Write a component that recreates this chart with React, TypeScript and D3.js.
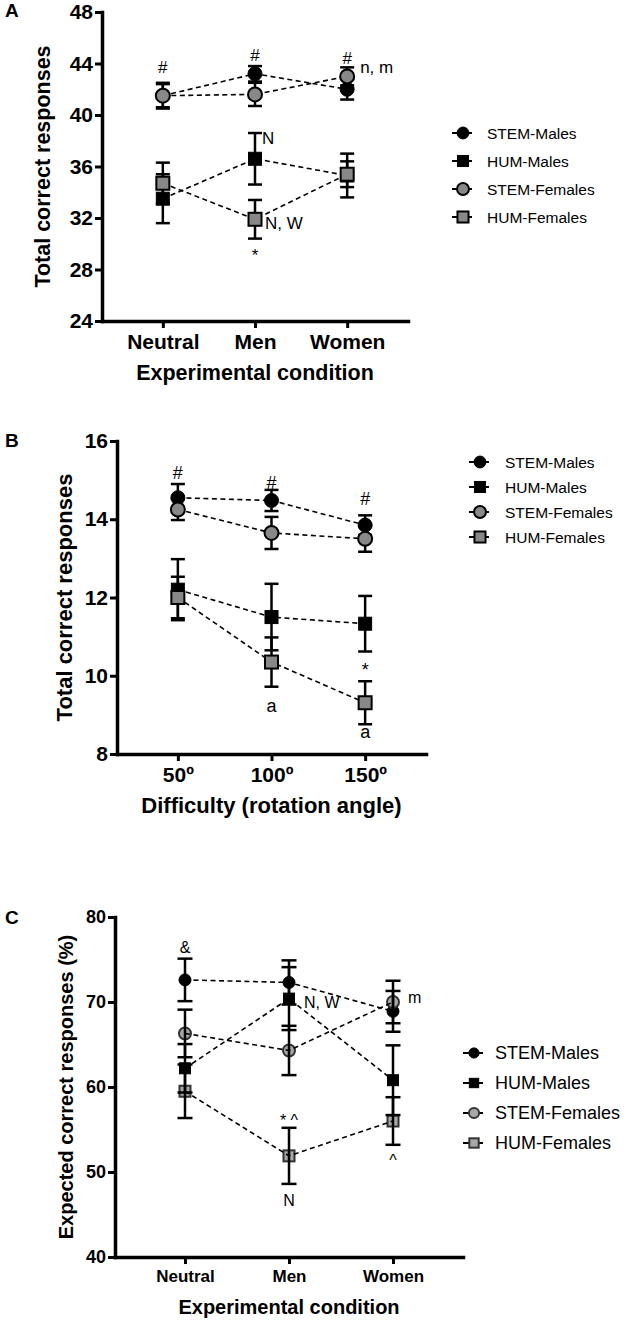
import React, { useEffect, useRef } from "react";
import * as d3 from "d3";

const series = ["STEM-Males", "HUM-Males", "STEM-Females", "HUM-Females"];
const conditions = ["Neutral", "Men", "Women"];
const angles = ["50º", "100º", "150º"];

// Panel A: total correct responses by experimental condition
const ticksA = [24, 28, 32, 36, 40, 44, 48];
const meansA = [
  [41.5, 43.2, 42.0],
  [33.5, 36.6, 35.3],
  [41.5, 41.6, 43.0],
  [34.7, 31.9, 35.4],
];
const errA = [
  [0.9, 0.6, 0.8],
  [1.9, 2.0, 1.7],
  [1.0, 0.9, 0.7],
  [1.6, 1.5, 1.0],
];
// [category index, value, text, dx]
const notesA: [number, number, string, number][] = [
  [0, 43.7, "#", 0],
  [1, 44.65, "#", 0],
  [2, 44.4, "#", 0],
  [2, 43.65, "n, m", 13],
  [1, 38.2, "N", 7],
  [1, 31.6, "N, W", 10],
  [1, 29.4, "*", 0],
];

// Panel B: total correct responses by rotation angle
const ticksB = [8, 10, 12, 14, 16];
const meansB = [
  [14.55, 14.48, 13.85],
  [12.2, 11.5, 11.33],
  [14.25, 13.65, 13.5],
  [12.0, 10.35, 9.31],
];
const errB = [
  [0.35, 0.27, 0.25],
  [0.78, 0.85, 0.71],
  [0.27, 0.41, 0.33],
  [0.53, 0.63, 0.55],
];
const notesB: [number, number, string, number][] = [
  [0, 15.2, "#", 0],
  [1, 14.95, "#", 0],
  [2, 14.54, "#", 0],
  [2, 10.27, "*", 0],
  [1, 9.2, "a", 0],
  [2, 8.53, "a", 0],
];

// Panel C: expected correct responses (%)
const ticksC = [40, 50, 60, 70, 80];
const meansC = [
  [72.6, 72.3, 68.9],
  [62.2, 70.4, 60.8],
  [66.3, 64.3, 70.0],
  [59.5, 51.9, 56.0],
];
const errC = [
  [2.5, 2.6, 2.4],
  [2.85, 3.7, 4.1],
  [2.8, 2.9, 2.5],
  [3.15, 3.3, 2.8],
];
const notesC: [number, number, string, number][] = [
  [0, 76.4, "&", 0],
  [1, 70.0, "N, W", 15],
  [2, 70.4, "m", 15],
  [1, 56.5, "* ^", 0],
  [1, 46.7, "N", 0],
  [2, 51.8, "^", 0],
];

const FONT = "'Liberation Sans', Arial, Helvetica, sans-serif";

type Panel = {
  label: string;
  labelY: number;
  cats: string[];
  ticks: number[];
  means: number[][];
  errs: number[][];
  notes: [number, number, string, number][];
  x0: number; x1: number; y0: number; y1: number; pad: number;
  tickFont: number; yTickFont: number; titleFont: number; noteFont: number;
  xTitle: string; xTitleY: number;
  yTitle: string; yTitleX: number;
  r: number; sq: number; cap: number; grey: string; greyStroke: string; barsOnTop: boolean;
  legX: number; legTextX: number; legY: number; legStep: number; legFont: number;
};

const panels: Panel[] = [
  {
    label: "A", labelY: 17, cats: conditions, ticks: ticksA, means: meansA, errs: errA, notes: notesA,
    x0: 102, x1: 408, y0: 321, y1: 12, pad: 0.66,
    tickFont: 21, yTickFont: 21, titleFont: 21.5, noteFont: 17,
    xTitle: "Experimental condition", xTitleY: 380, yTitle: "Total correct responses", yTitleX: 50,
    r: 7, sq: 13, cap: 14, grey: "#888", greyStroke: "#000", barsOnTop: false,
    legX: 463, legTextX: 487, legY: 133, legStep: 28, legFont: 15.5,
  },
  {
    label: "B", labelY: 447, cats: angles, ticks: ticksB, means: meansB, errs: errB, notes: notesB,
    x0: 117, x1: 426, y0: 754, y1: 441, pad: 0.65,
    tickFont: 21, yTickFont: 21, titleFont: 22, noteFont: 18,
    xTitle: "Difficulty (rotation angle)", xTitleY: 813, yTitle: "Total correct responses", yTitleX: 72,
    r: 7, sq: 13, cap: 14, grey: "#888", greyStroke: "#000", barsOnTop: false,
    legX: 480, legTextX: 505, legY: 462, legStep: 25, legFont: 15.5,
  },
  {
    label: "C", labelY: 924, cats: conditions, ticks: ticksC, means: meansC, errs: errC, notes: notesC,
    x0: 115, x1: 463, y0: 1257, y1: 917, pad: 0.673,
    tickFont: 17, yTickFont: 18, titleFont: 20, noteFont: 16,
    xTitle: "Experimental condition", xTitleY: 1314, yTitle: "Expected correct responses (%)", yTitleX: 73,
    r: 6, sq: 11, cap: 15, grey: "#a8a8a8", greyStroke: "#333", barsOnTop: true,
    legX: 474, legTextX: 495, legY: 1053, legStep: 30, legFont: 18,
  },
];

function marker(g: d3.Selection<SVGGElement, unknown, null, undefined>, i: number, cx: number, cy: number, p: Panel, scale = 1) {
  const isGrey = i >= 2;
  const fill = isGrey ? p.grey : "#000";
  const stroke = isGrey ? p.greyStroke : "#000";
  const sw = isGrey ? 2 : 1;
  if (i % 2 === 0) {
    g.append("circle").attr("cx", cx).attr("cy", cy).attr("r", p.r * scale)
      .attr("fill", fill).attr("stroke", stroke).attr("stroke-width", sw);
  } else {
    const s = p.sq * scale;
    g.append("rect").attr("x", cx - s / 2).attr("y", cy - s / 2).attr("width", s).attr("height", s)
      .attr("fill", fill).attr("stroke", stroke).attr("stroke-width", sw);
  }
}

function noteOffset(t: string, fs: number) {
  if (/^[*^ ]+$/.test(t)) return 0.58 * fs;
  if (/^[a-z, ]+$/.test(t)) return 0.27 * fs;
  return 0.36 * fs;
}

function drawPanel(root: d3.Selection<SVGSVGElement, unknown, null, undefined>, p: Panel) {
  const g = root.append("g");
  const x = d3.scalePoint<string>().domain(p.cats).range([p.x0, p.x1]).padding(p.pad);
  const dom = d3.extent(p.ticks) as [number, number];
  const y = d3.scaleLinear().domain(dom).range([p.y0, p.y1]);

  // axes
  const ya = g.append("g").attr("transform", `translate(${p.x0},0)`)
    .call(d3.axisLeft(y).tickValues(p.ticks).tickSize(7).tickSizeOuter(0).tickPadding(2));
  const xa = g.append("g").attr("transform", `translate(0,${p.y0})`)
    .call(d3.axisBottom(x).tickSize(7).tickSizeOuter(0).tickPadding(6));
  [ya, xa].forEach((a) => {
    a.select(".domain").attr("stroke", "#000").attr("stroke-width", 3.5).attr("stroke-linecap", "square");
    a.selectAll(".tick line").attr("stroke", "#000").attr("stroke-width", 3);
    a.selectAll("text").attr("fill", "#000").style("font-family", FONT).style("font-weight", "bold");
  });
  ya.selectAll("text").style("font-size", `${p.yTickFont}px`);
  xa.selectAll("text").style("font-size", `${p.tickFont}px`);

  // titles
  g.append("text").attr("x", (p.x0 + p.x1) / 2).attr("y", p.xTitleY).attr("text-anchor", "middle")
    .style("font-family", FONT).style("font-weight", "bold").style("font-size", `${p.titleFont}px`).text(p.xTitle);
  g.append("text").attr("transform", `translate(${p.yTitleX},${(p.y0 + p.y1) / 2}) rotate(-90)`)
    .attr("text-anchor", "middle")
    .style("font-family", FONT).style("font-weight", "bold").style("font-size", `${p.titleFont}px`).text(p.yTitle);
  g.append("text").attr("x", 5).attr("y", p.labelY)
    .style("font-family", FONT).style("font-weight", "bold").style("font-size", "19px").text(p.label);

  const marks = g.append("g");
  const lines = g.append("g");
  const bars = g.append("g");
  const front = g.append("g");
  const markLayer = p.barsOnTop ? marks : front;

  const line = d3.line<number>().x((_, j) => x(p.cats[j])!).y((v) => y(v));
  p.means.forEach((vals, i) => {
    lines.append("path").attr("d", line(vals)).attr("fill", "none").attr("stroke", "#000")
      .attr("stroke-width", 1.6).attr("stroke-dasharray", "5,3.5");
    vals.forEach((v, j) => {
      const cx = x(p.cats[j])!;
      const e = p.errs[i][j];
      const top = y(v + e), bot = y(v - e);
      bars.append("line").attr("x1", cx).attr("x2", cx).attr("y1", top).attr("y2", bot)
        .attr("stroke", "#000").attr("stroke-width", 2.5);
      [top, bot].forEach((yy) => bars.append("line").attr("x1", cx - p.cap / 2).attr("x2", cx + p.cap / 2)
        .attr("y1", yy).attr("y2", yy).attr("stroke", "#000").attr("stroke-width", 2.5));
      marker(markLayer, i, cx, y(v), p);
    });
  });

  // annotations
  p.notes.forEach(([ci, v, t, dx]) => {
    g.append("text").attr("x", x(p.cats[ci])! + dx).attr("y", y(v) + noteOffset(t, p.noteFont))
      .attr("text-anchor", dx > 0 ? "start" : "middle")
      .style("font-family", FONT).style("font-size", `${p.noteFont}px`).text(t);
  });

  // legend
  series.forEach((s, i) => {
    const ly = p.legY + i * p.legStep;
    const lg = g.append("g");
    lg.append("line").attr("x1", p.legX - 11).attr("x2", p.legX - 3).attr("y1", ly).attr("y2", ly)
      .attr("stroke", "#000").attr("stroke-width", 2);
    lg.append("line").attr("x1", p.legX + 4).attr("x2", p.legX + 9).attr("y1", ly).attr("y2", ly)
      .attr("stroke", "#000").attr("stroke-width", 2);
    marker(lg, i, p.legX, ly, p, 0.85);
    lg.append("text").attr("x", p.legTextX).attr("y", ly + p.legFont * 0.36)
      .style("font-family", FONT).style("font-size", `${p.legFont}px`).text(s);
  });
}

export default function App() {
  const ref = useRef<SVGSVGElement | null>(null);

  useEffect(() => {
    if (!ref.current) return;
    const svg = d3.select(ref.current);
    svg.selectAll("*").remove();
    panels.forEach((p) => drawPanel(svg, p));
  }, []);

  return (
    <svg ref={ref} width={633} height={1320}
      style={{ position: "absolute", left: 0, top: 0, background: "#fff" }} />
  );
}
